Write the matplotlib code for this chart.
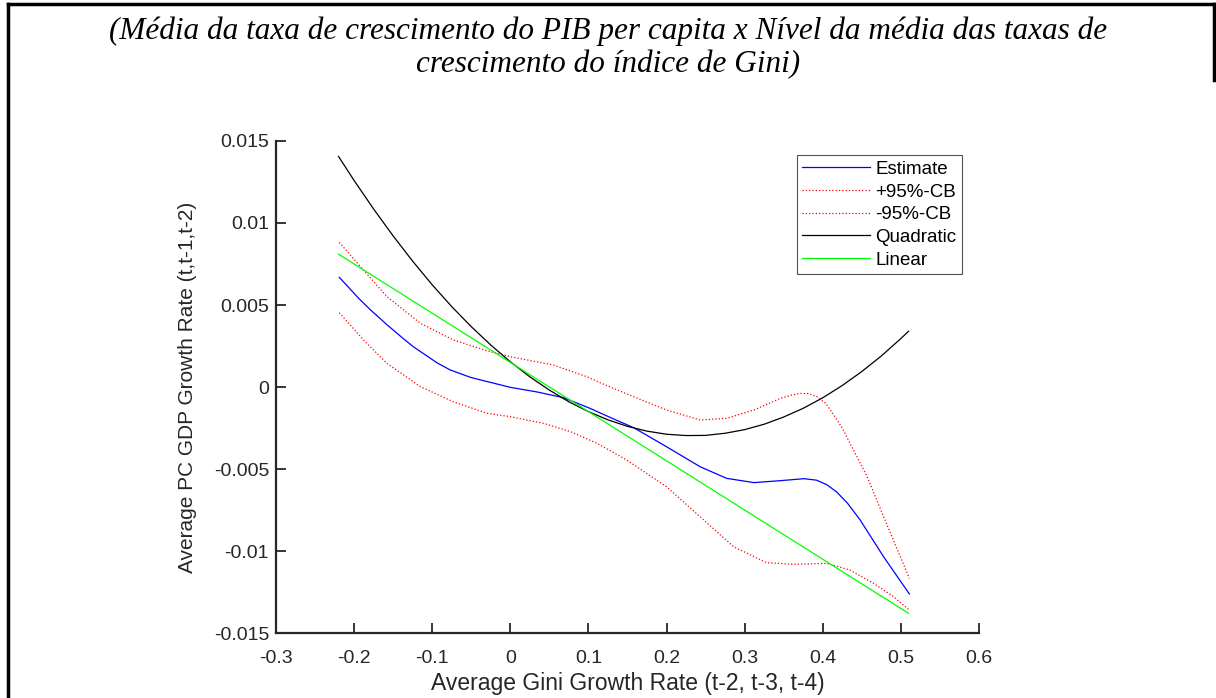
import matplotlib
matplotlib.use('Agg')
import matplotlib.pyplot as plt
from matplotlib.lines import Line2D

plt.rcParams['axes.unicode_minus'] = False
plt.rcParams['font.family'] = ['Liberation Sans', 'DejaVu Sans']

# values
est_x = [-0.219, -0.194, -0.179, -0.158, -0.137, -0.124, -0.094, -0.077, -0.051, -0.043,
         0.0, 0.034, 0.068, 0.102, 0.130, 0.158, 0.200, 0.243, 0.277, 0.312, 0.346,
         0.376, 0.392, 0.405, 0.418, 0.432, 0.448, 0.478, 0.511]
est_y = [0.00669, 0.0054, 0.0047, 0.0038, 0.00295, 0.00245, 0.00148, 0.00104, 0.00059, 0.00049,
         -0.00002, -0.0003, -0.00065, -0.0013, -0.0019, -0.00248, -0.00364, -0.00486, -0.00557,
         -0.00583, -0.00571, -0.00559, -0.00568, -0.00595, -0.0064, -0.0071, -0.00811,
         -0.01035, -0.01262]

upper_x = [-0.219, -0.188, -0.158, -0.115, -0.073, -0.030, 0.0, 0.055, 0.098, 0.115, 0.137,
           0.158, 0.200, 0.243, 0.277, 0.312, 0.346, 0.360, 0.371, 0.382, 0.393, 0.404,
           0.414, 0.425, 0.435, 0.457, 0.478, 0.511]
upper_y = [0.00882, 0.00713, 0.00551, 0.00388, 0.00287, 0.00221, 0.00185, 0.00134, 0.00063,
           0.00026, -0.00018, -0.00059, -0.0014, -0.00201, -0.00191, -0.0014, -0.00069,
           -0.0005, -0.00039, -0.0004, -0.0006, -0.001, -0.0017, -0.0025, -0.00344, -0.00547,
           -0.00791, -0.01167]

lower_x = [-0.219, -0.188, -0.158, -0.115, -0.073, -0.030, 0.0, 0.043, 0.077, 0.111, 0.149,
           0.200, 0.243, 0.286, 0.328, 0.363, 0.405, 0.435, 0.465, 0.491, 0.511]
lower_y = [0.00453, 0.00287, 0.00144, 0.00002, -0.0009, -0.0016, -0.00181, -0.00222, -0.00272,
           -0.00343, -0.00445, -0.00608, -0.00791, -0.00974, -0.01071, -0.01081, -0.01075,
           -0.01116, -0.01197, -0.01279, -0.0136]

quad_x = [-0.22, -0.2, -0.175, -0.15, -0.125, -0.1, -0.075, -0.05, -0.025, 0.0, 0.025, 0.05,
          0.075, 0.1, 0.125, 0.15, 0.175, 0.2, 0.225, 0.25, 0.275, 0.3, 0.325, 0.35, 0.375,
          0.4, 0.425, 0.45, 0.475, 0.5, 0.51]
quad_y = [0.01406, 0.01259, 0.01085, 0.00921, 0.00767, 0.00623, 0.0049, 0.00368, 0.00256,
          0.00154, 0.00062, -0.00019, -0.0009, -0.0015, -0.002, -0.0024, -0.00269, -0.00288,
          -0.00296, -0.00295, -0.00282, -0.0026, -0.00227, -0.00183, -0.0013, -0.00066,
          0.00009, 0.00094, 0.00189, 0.00295, 0.0034]

lin_x = [-0.22, 0.0, 0.2, 0.4, 0.51]
lin_y = [0.0081, 0.0015, -0.0045, -0.0105, -0.0138]

xticks = [-0.3, -0.2, -0.1, 0, 0.1, 0.2, 0.3, 0.4, 0.5, 0.6]
xlabels = ['-0.3', '-0.2', '-0.1', '0', '0.1', '0.2', '0.3', '0.4', '0.5', '0.6']
yticks = [-0.015, -0.01, -0.005, 0, 0.005, 0.01, 0.015]
ylabels = ['-0.015', '-0.01', '-0.005', '0', '0.005', '0.01', '0.015']

fig = plt.figure(figsize=(12.16, 6.98), dpi=100)
ax = fig.add_axes([0.227, 0.0931, 0.578, 0.7049])

ax.plot(est_x, est_y, color='#0000ff', lw=0.9, label='Estimate')
ax.plot(upper_x, upper_y, color='#ff0000', lw=0.9, ls=':', label='+95%-CB')
ax.plot(lower_x, lower_y, color='#ff0000', lw=0.9, ls=':', label='-95%-CB')
ax.plot(quad_x, quad_y, color='black', lw=0.9, label='Quadratic')
ax.plot(lin_x, lin_y, color='#00ff00', lw=0.9, label='Linear')

ax.set_xlim(-0.3, 0.6)
ax.set_ylim(-0.015, 0.015)
ax.set_xticks(xticks)
ax.set_xticklabels(xlabels)
ax.set_yticks(yticks)
ax.set_yticklabels(ylabels)
ax.spines['top'].set_visible(False)
ax.spines['right'].set_visible(False)
for s in ['left', 'bottom']:
    ax.spines[s].set_linewidth(1.6)
    ax.spines[s].set_color('#262626')
ax.tick_params(direction='in', length=7, width=1.3, color='#262626',
               labelcolor='#262626', labelsize=14)
ax.tick_params(axis='x', pad=12)
ax.tick_params(axis='y', pad=5)

ax.set_xlabel('Average Gini Growth Rate (t-2, t-3, t-4)', fontsize=16.5, color='#262626', labelpad=4)
ax.set_ylabel('Average PC GDP Growth Rate (t,t-1,t-2)', fontsize=15, color='#262626', labelpad=12)

leg = ax.legend(loc='upper right', bbox_to_anchor=(0.976, 0.9715), fontsize=13.5, frameon=True,
                fancybox=False, edgecolor='#262626', handlelength=3.6, handletextpad=0.3,
                labelspacing=0.3, borderpad=0.3, borderaxespad=0)
leg.get_frame().set_linewidth(0.8)

fig.text(0.5, 0.955, '(Média da taxa de crescimento do PIB per capita x Nível da média das taxas de',
         ha='center', va='center', fontsize=22.5, style='italic', family='Liberation Serif')
fig.text(0.5, 0.908, 'crescimento do índice de Gini)',
         ha='center', va='center', fontsize=22.5, style='italic', family='Liberation Serif')

# page frame around the figure
fig.add_artist(Line2D([8 / 1216, 8 / 1216], [0, 1 - 4 / 698], transform=fig.transFigure, color='black', lw=2.5))
fig.add_artist(Line2D([8 / 1216, 1214 / 1216], [1 - 4 / 698, 1 - 4 / 698], transform=fig.transFigure, color='black', lw=2.5))
fig.add_artist(Line2D([1214 / 1216, 1214 / 1216], [1 - 4 / 698, 1 - 80 / 698], transform=fig.transFigure, color='black', lw=2.5))

fig.savefig('out.png', dpi=100)
